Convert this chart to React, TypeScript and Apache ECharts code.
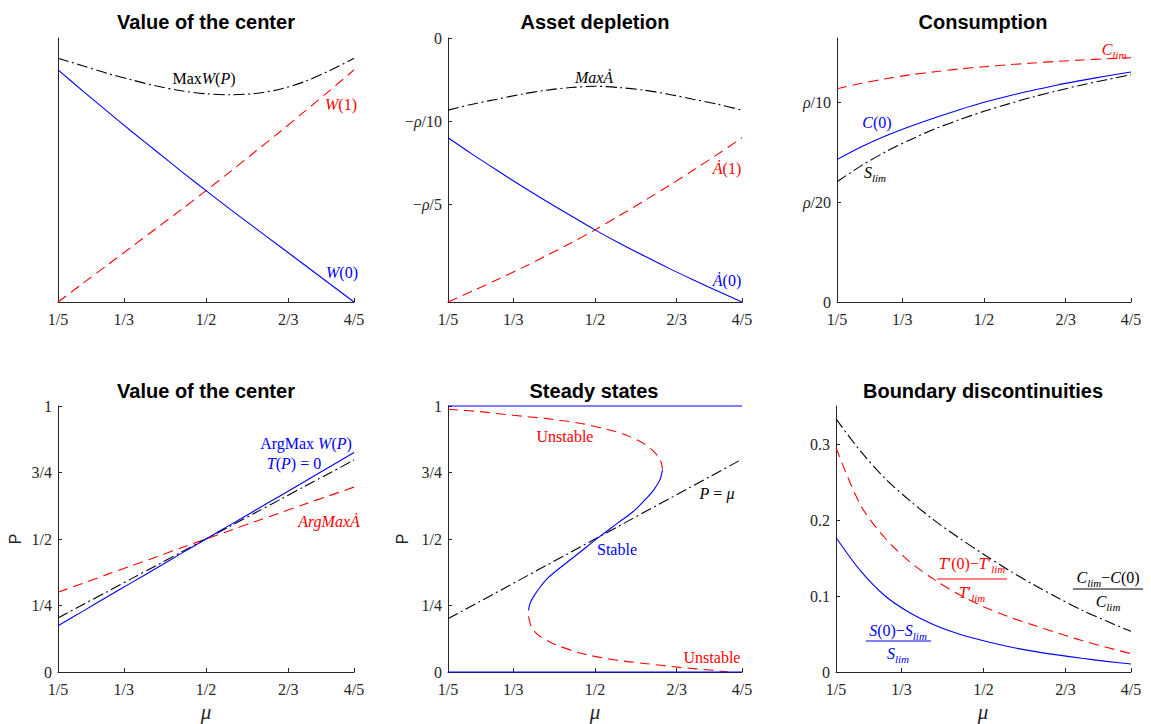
import React, { useEffect, useRef } from 'react';
import * as echarts from 'echarts';

// ---------- data ----------
const MU = [0.2, 0.25, 0.3, 0.35, 0.4, 0.45, 0.5, 0.55, 0.6, 0.65, 0.7, 0.75, 0.8];

// Panel 1: value of the center (arbitrary units, no y labels)
const W0 = [0.879, 0.8, 0.722, 0.645, 0.57, 0.495, 0.422, 0.35, 0.28, 0.21, 0.14, 0.07, 0.0];
const W1 = [0.0, 0.07, 0.14, 0.21, 0.28, 0.35, 0.422, 0.495, 0.57, 0.645, 0.722, 0.8, 0.879];
const MAXW = [0.923, 0.895, 0.866, 0.841, 0.818, 0.8, 0.789, 0.785, 0.79, 0.806, 0.835, 0.876, 0.923];

// Panel 2: asset depletion (units of rho)
const AD0 = [-0.1202, -0.1402, -0.1594, -0.1782, -0.1963, -0.2139, -0.2311, -0.2472, -0.2624, -0.2772, -0.2912, -0.3048, -0.3181];
const AD1 = [-0.3181, -0.3048, -0.2912, -0.2772, -0.2624, -0.2472, -0.2311, -0.2139, -0.1963, -0.1782, -0.1594, -0.1402, -0.1202];
const ADMAX = [-0.0869, -0.0797, -0.0737, -0.0677, -0.0629, -0.0597, -0.0581, -0.0597, -0.0629, -0.0677, -0.0737, -0.0797, -0.0869];

// Panel 3: consumption (units of rho)
const CLIM = [0.1068, 0.1095, 0.1118, 0.1138, 0.1153, 0.1167, 0.1178, 0.1188, 0.1197, 0.1205, 0.1212, 0.1218, 0.1223];
const C0 = [0.0713, 0.0777, 0.0832, 0.088, 0.0923, 0.0963, 0.1, 0.1032, 0.106, 0.1087, 0.111, 0.1132, 0.1152];
const SLIM = [0.0602, 0.0683, 0.0753, 0.0813, 0.0867, 0.0913, 0.0955, 0.0992, 0.1027, 0.1058, 0.1087, 0.1113, 0.1138];

// Panel 4: argmax
const ARGW = [0.174, 0.228, 0.283, 0.337, 0.391, 0.446, 0.5, 0.554, 0.608, 0.662, 0.716, 0.771, 0.825];
const TP0 = [0.203, 0.253, 0.302, 0.352, 0.401, 0.451, 0.5, 0.549, 0.599, 0.648, 0.698, 0.747, 0.797];
const ARGA = [0.3, 0.333, 0.367, 0.4, 0.433, 0.467, 0.5, 0.533, 0.566, 0.598, 0.631, 0.663, 0.695];

// Panel 5: steady states (mu, P pairs)
const UP_MU = [0.2, 0.2658, 0.3337, 0.4016, 0.4695, 0.5238, 0.5645, 0.5984, 0.6222, 0.6344, 0.6378];
const UP_P = [0.9875, 0.9787, 0.965, 0.9524, 0.9352, 0.9127, 0.8899, 0.8598, 0.8248, 0.791, 0.762];
const ST_MU = [0.6378, 0.6324, 0.6188, 0.6052, 0.578, 0.5441, 0.5034, 0.4627, 0.4235, 0.4035, 0.3885, 0.3755, 0.3676, 0.3643];
const ST_P = [0.7597, 0.7222, 0.6821, 0.6533, 0.6033, 0.5569, 0.5006, 0.4406, 0.3842, 0.3529, 0.3204, 0.2861, 0.2591, 0.2315];
const LO_MU = [0.3643, 0.3711, 0.388, 0.4152, 0.4695, 0.5373, 0.6052, 0.6731, 0.741, 0.7715];
const LO_P = [0.209, 0.1652, 0.1339, 0.1064, 0.0713, 0.0463, 0.0313, 0.0175, 0.0063, 0.0];
const LINE_MU = [0.2, 0.8];
const LINE_P = [0.2, 0.8];
const P_ONE = [1, 1];
const P_ZERO = [0, 0];

// Panel 6: boundary discontinuities
const DC = [0.333, 0.2905, 0.2545, 0.2255, 0.1995, 0.1765, 0.155, 0.1345, 0.1155, 0.098, 0.0815, 0.067, 0.0535];
const DT = [0.295, 0.2195, 0.176, 0.145, 0.1215, 0.102, 0.086, 0.073, 0.062, 0.0515, 0.0415, 0.0325, 0.0241];
const DS = [0.177, 0.133, 0.1, 0.078, 0.062, 0.05, 0.041, 0.0335, 0.0275, 0.0225, 0.018, 0.014, 0.0105];

// ticks
const X_TICKS = [0.2, 1 / 3, 0.5, 2 / 3, 0.8];
const X_LABELS = ['1/5', '1/3', '1/2', '2/3', '4/5'];
const AD_TICKS = [0, -0.1, -0.2];
const AD_LABELS = ['0', '−{i|ρ}/10', '−{i|ρ}/5'];
const C_TICKS = [0, 0.05, 0.1];
const C_LABELS = ['0', '{i|ρ}/20', '{i|ρ}/10'];
const P_TICKS = [0, 0.25, 0.5, 0.75, 1];
const P_LABELS = ['0', '1/4', '1/2', '3/4', '1'];
const D_TICKS = [0, 0.1, 0.2, 0.3];
const D_LABELS = ['0', '0.1', '0.2', '0.3'];

// ---------- styles ----------
const SERIF = "'Liberation Serif', 'DejaVu Serif', serif";
const SANS = "'Liberation Sans', Arial, sans-serif";
const AX = '#262626';
const BLUE = '#0000ff';
const RED = '#ff0000';
const BLACK = '#000000';
const DASH = [10, 6];
const DASHDOT = [11, 3.5, 2, 3.5];
const TICK_FONT = 16;

const zip = (xs: number[], ys: number[]) => xs.map((x, i) => [x, ys[i]]);

const labelFor = (ticks: number[], labels: string[]) => (v: number) => {
  const i = ticks.findIndex((t) => Math.abs(t - v) < 1e-9);
  return i >= 0 ? labels[i] : '';
};

const axisRich = { i: { fontStyle: 'italic', fontFamily: SERIF, fontSize: TICK_FONT, color: AX, lineHeight: 16 } };

function xAxis(gridIndex: number) {
  return {
    type: 'value',
    gridIndex,
    min: 0.2,
    max: 0.8,
    axisLine: { show: true, onZero: false, lineStyle: { color: AX, width: 1 } },
    axisTick: { show: true, inside: true, length: 4, customValues: X_TICKS, lineStyle: { color: AX } },
    axisLabel: {
      show: true,
      customValues: X_TICKS,
      formatter: labelFor(X_TICKS, X_LABELS),
      fontFamily: SERIF,
      fontSize: TICK_FONT,
      lineHeight: 16,
      color: AX,
      margin: 9,
    },
    splitLine: { show: false },
  };
}

function yAxis(gridIndex: number, min: number, max: number, ticks: number[] | null, labels: string[] | null) {
  return {
    type: 'value',
    gridIndex,
    min,
    max,
    axisLine: { show: true, onZero: false, lineStyle: { color: AX, width: 1 } },
    axisTick: ticks
      ? { show: true, inside: true, length: 4, customValues: ticks, lineStyle: { color: AX } }
      : { show: false },
    axisLabel: ticks
      ? {
          show: true,
          customValues: ticks,
          formatter: labelFor(ticks, labels as string[]),
          fontFamily: SERIF,
          fontSize: TICK_FONT,
          lineHeight: 16,
          color: AX,
          margin: 6,
          rich: axisRich,
        }
      : { show: false },
    splitLine: { show: false },
  };
}

function line(idx: number, data: number[][], color: string, type: any, smooth: number | boolean = 0.3) {
  return {
    type: 'line',
    xAxisIndex: idx,
    yAxisIndex: idx,
    data,
    symbol: 'none',
    showSymbol: false,
    clip: false,
    silent: true,
    smooth,
    lineStyle: { color, width: 1.1, type },
  };
}

// rich text for annotations
function richFor(color: string) {
  return {
    r: { fontFamily: SERIF, fontSize: 16, fill: color, lineHeight: 22 },
    i: { fontFamily: SERIF, fontSize: 16, fontStyle: 'italic', fill: color, lineHeight: 22 },
    s: { fontFamily: SERIF, fontSize: 11, fontStyle: 'italic', fill: color, lineHeight: 10, verticalAlign: 'bottom' },
  };
}

function txt(x: number, y: number, text: string, color: string, align = 'center') {
  return {
    type: 'text',
    x,
    y,
    silent: true,
    style: {
      text,
      rich: richFor(color),
      fill: color,
      fontFamily: SERIF,
      fontSize: 16,
      align,
      verticalAlign: 'middle',
    },
  };
}

function title(x: number, y: number, text: string) {
  return {
    type: 'text',
    x,
    y,
    silent: true,
    style: {
      text,
      fill: '#000',
      fontFamily: SANS,
      fontSize: 20,
      fontWeight: 'bold',
      align: 'center',
      verticalAlign: 'middle',
    },
  };
}

function bar(x1: number, x2: number, y: number, color: string) {
  return {
    type: 'line',
    silent: true,
    shape: { x1, y1: y, x2, y2: y },
    style: { stroke: color, lineWidth: 1 },
  };
}

function yName(x: number, y: number) {
  return {
    type: 'text',
    x,
    y,
    rotation: Math.PI / 2,
    silent: true,
    style: { text: 'P', fill: AX, fontFamily: SANS, fontSize: 16, align: 'center', verticalAlign: 'middle' },
  };
}

function muName(x: number, y: number) {
  return {
    type: 'text',
    x,
    y,
    silent: true,
    style: { text: 'μ', fill: AX, fontFamily: SERIF, fontStyle: 'italic', fontSize: 21, align: 'center', verticalAlign: 'middle' },
  };
}

export default function App() {
  const ref = useRef<HTMLDivElement>(null);

  useEffect(() => {
    if (!ref.current) return;
    const chart = echarts.init(ref.current, null, { renderer: 'svg' });

    const option: any = {
      animation: false,
      backgroundColor: '#ffffff',
      grid: [
        { left: 58, top: 38, width: 296, height: 264 },
        { left: 448, top: 38, width: 294, height: 264 },
        { left: 837, top: 38, width: 294, height: 264 },
        { left: 58, top: 406, width: 296, height: 266 },
        { left: 448, top: 406, width: 294, height: 266 },
        { left: 836, top: 406, width: 295, height: 266 },
      ],
      xAxis: [0, 1, 2, 3, 4, 5].map((i) => xAxis(i)),
      yAxis: [
        yAxis(0, 0, 1, null, null),
        yAxis(1, -0.318, 0, AD_TICKS, AD_LABELS),
        yAxis(2, 0, 0.1322, C_TICKS, C_LABELS),
        yAxis(3, 0, 1, P_TICKS, P_LABELS),
        yAxis(4, 0, 1, P_TICKS, P_LABELS),
        yAxis(5, 0, 0.35, D_TICKS, D_LABELS),
      ],
      series: [
        // panel 1
        line(0, zip(MU, MAXW), BLACK, DASHDOT),
        line(0, zip(MU, W1), RED, DASH),
        line(0, zip(MU, W0), BLUE, 'solid'),
        // panel 2
        line(1, zip(MU, ADMAX), BLACK, DASHDOT),
        line(1, zip(MU, AD1), RED, DASH),
        line(1, zip(MU, AD0), BLUE, 'solid'),
        // panel 3
        line(2, zip(MU, CLIM), RED, DASH),
        line(2, zip(MU, SLIM), BLACK, DASHDOT),
        line(2, zip(MU, C0), BLUE, 'solid'),
        // panel 4
        line(3, zip(MU, ARGA), RED, DASH),
        line(3, zip(MU, TP0), BLACK, DASHDOT),
        line(3, zip(MU, ARGW), BLUE, 'solid'),
        // panel 5
        line(4, zip(LINE_MU, LINE_P), BLACK, DASHDOT, false),
        line(4, zip(UP_MU, UP_P), RED, DASH),
        line(4, zip(LO_MU, LO_P), RED, DASH),
        line(4, zip(ST_MU, ST_P), BLUE, 'solid', 0.4),
        line(4, zip(LINE_MU, P_ONE), BLUE, 'solid', false),
        line(4, zip(LINE_MU, P_ZERO), BLUE, 'solid', false),
        // panel 6
        line(5, zip(MU, DC), BLACK, DASHDOT),
        line(5, zip(MU, DT), RED, DASH),
        line(5, zip(MU, DS), BLUE, 'solid'),
      ],
      graphic: {
        elements: [
          title(206, 22, 'Value of the center'),
          title(595, 22, 'Asset depletion'),
          title(983, 22, 'Consumption'),
          title(206, 391, 'Value of the center'),
          title(594, 391, 'Steady states'),
          title(983, 391, 'Boundary discontinuities'),

          // panel 1
          txt(204, 78, '{r|Max}{i|W}{r|(}{i|P}{r|)}', BLACK),
          txt(341, 104, '{i|W}{r|(1)}', RED),
          txt(342, 272, '{i|W}{r|(0)}', BLUE),
          // panel 2
          txt(594, 77, '{i|MaxȦ}', BLACK),
          txt(727, 168, '{i|Ȧ}{r|(1)}', RED),
          txt(727, 280, '{i|Ȧ}{r|(0)}', BLUE),
          // panel 3
          txt(1114, 49, '{i|C}{s|lim}', RED),
          txt(877, 122, '{i|C}{r|(0)}', BLUE),
          txt(875, 172, '{i|S}{s|lim}', BLACK),
          // panel 4
          txt(306, 443, '{r|ArgMax }{i|W}{r|(}{i|P}{r|)}', BLUE),
          txt(294, 463, '{i|T}{r|(}{i|P}{r|) = 0}', BLUE),
          txt(329, 521, '{i|ArgMaxȦ}', RED),
          yName(15, 539),
          muName(206, 712),
          // panel 5
          txt(565, 436, '{r|Unstable}', RED),
          txt(717, 493, '{i|P}{r| = }{i|μ}', BLACK),
          txt(617, 549, '{r|Stable}', BLUE),
          txt(712, 657, '{r|Unstable}', RED),
          yName(402, 539),
          muName(595, 712),
          // panel 6
          txt(898, 630, '{i|S}{r|(0)−}{i|S}{s|lim}', BLUE),
          bar(866, 931, 641, BLUE),
          txt(898, 653, '{i|S}{s|lim}', BLUE),
          txt(972, 563, '{i|T}{r|′(0)−}{i|T}{r|′}{s|lim}', RED),
          bar(937, 1007, 579, RED),
          txt(972, 592, '{i|T}{r|′}{s|lim}', RED),
          txt(1108, 577, '{i|C}{s|lim}{r|−}{i|C}{r|(0)}', BLACK),
          bar(1073, 1143, 589, BLACK),
          txt(1108, 601, '{i|C}{s|lim}', BLACK),
          muName(983, 712),
        ],
      },
    };

    chart.setOption(option);
    return () => chart.dispose();
  }, []);

  return (
    <div
      ref={ref}
      style={{ position: 'fixed', left: 0, top: 0, width: 1151, height: 724, background: '#ffffff' }}
    />
  );
}
